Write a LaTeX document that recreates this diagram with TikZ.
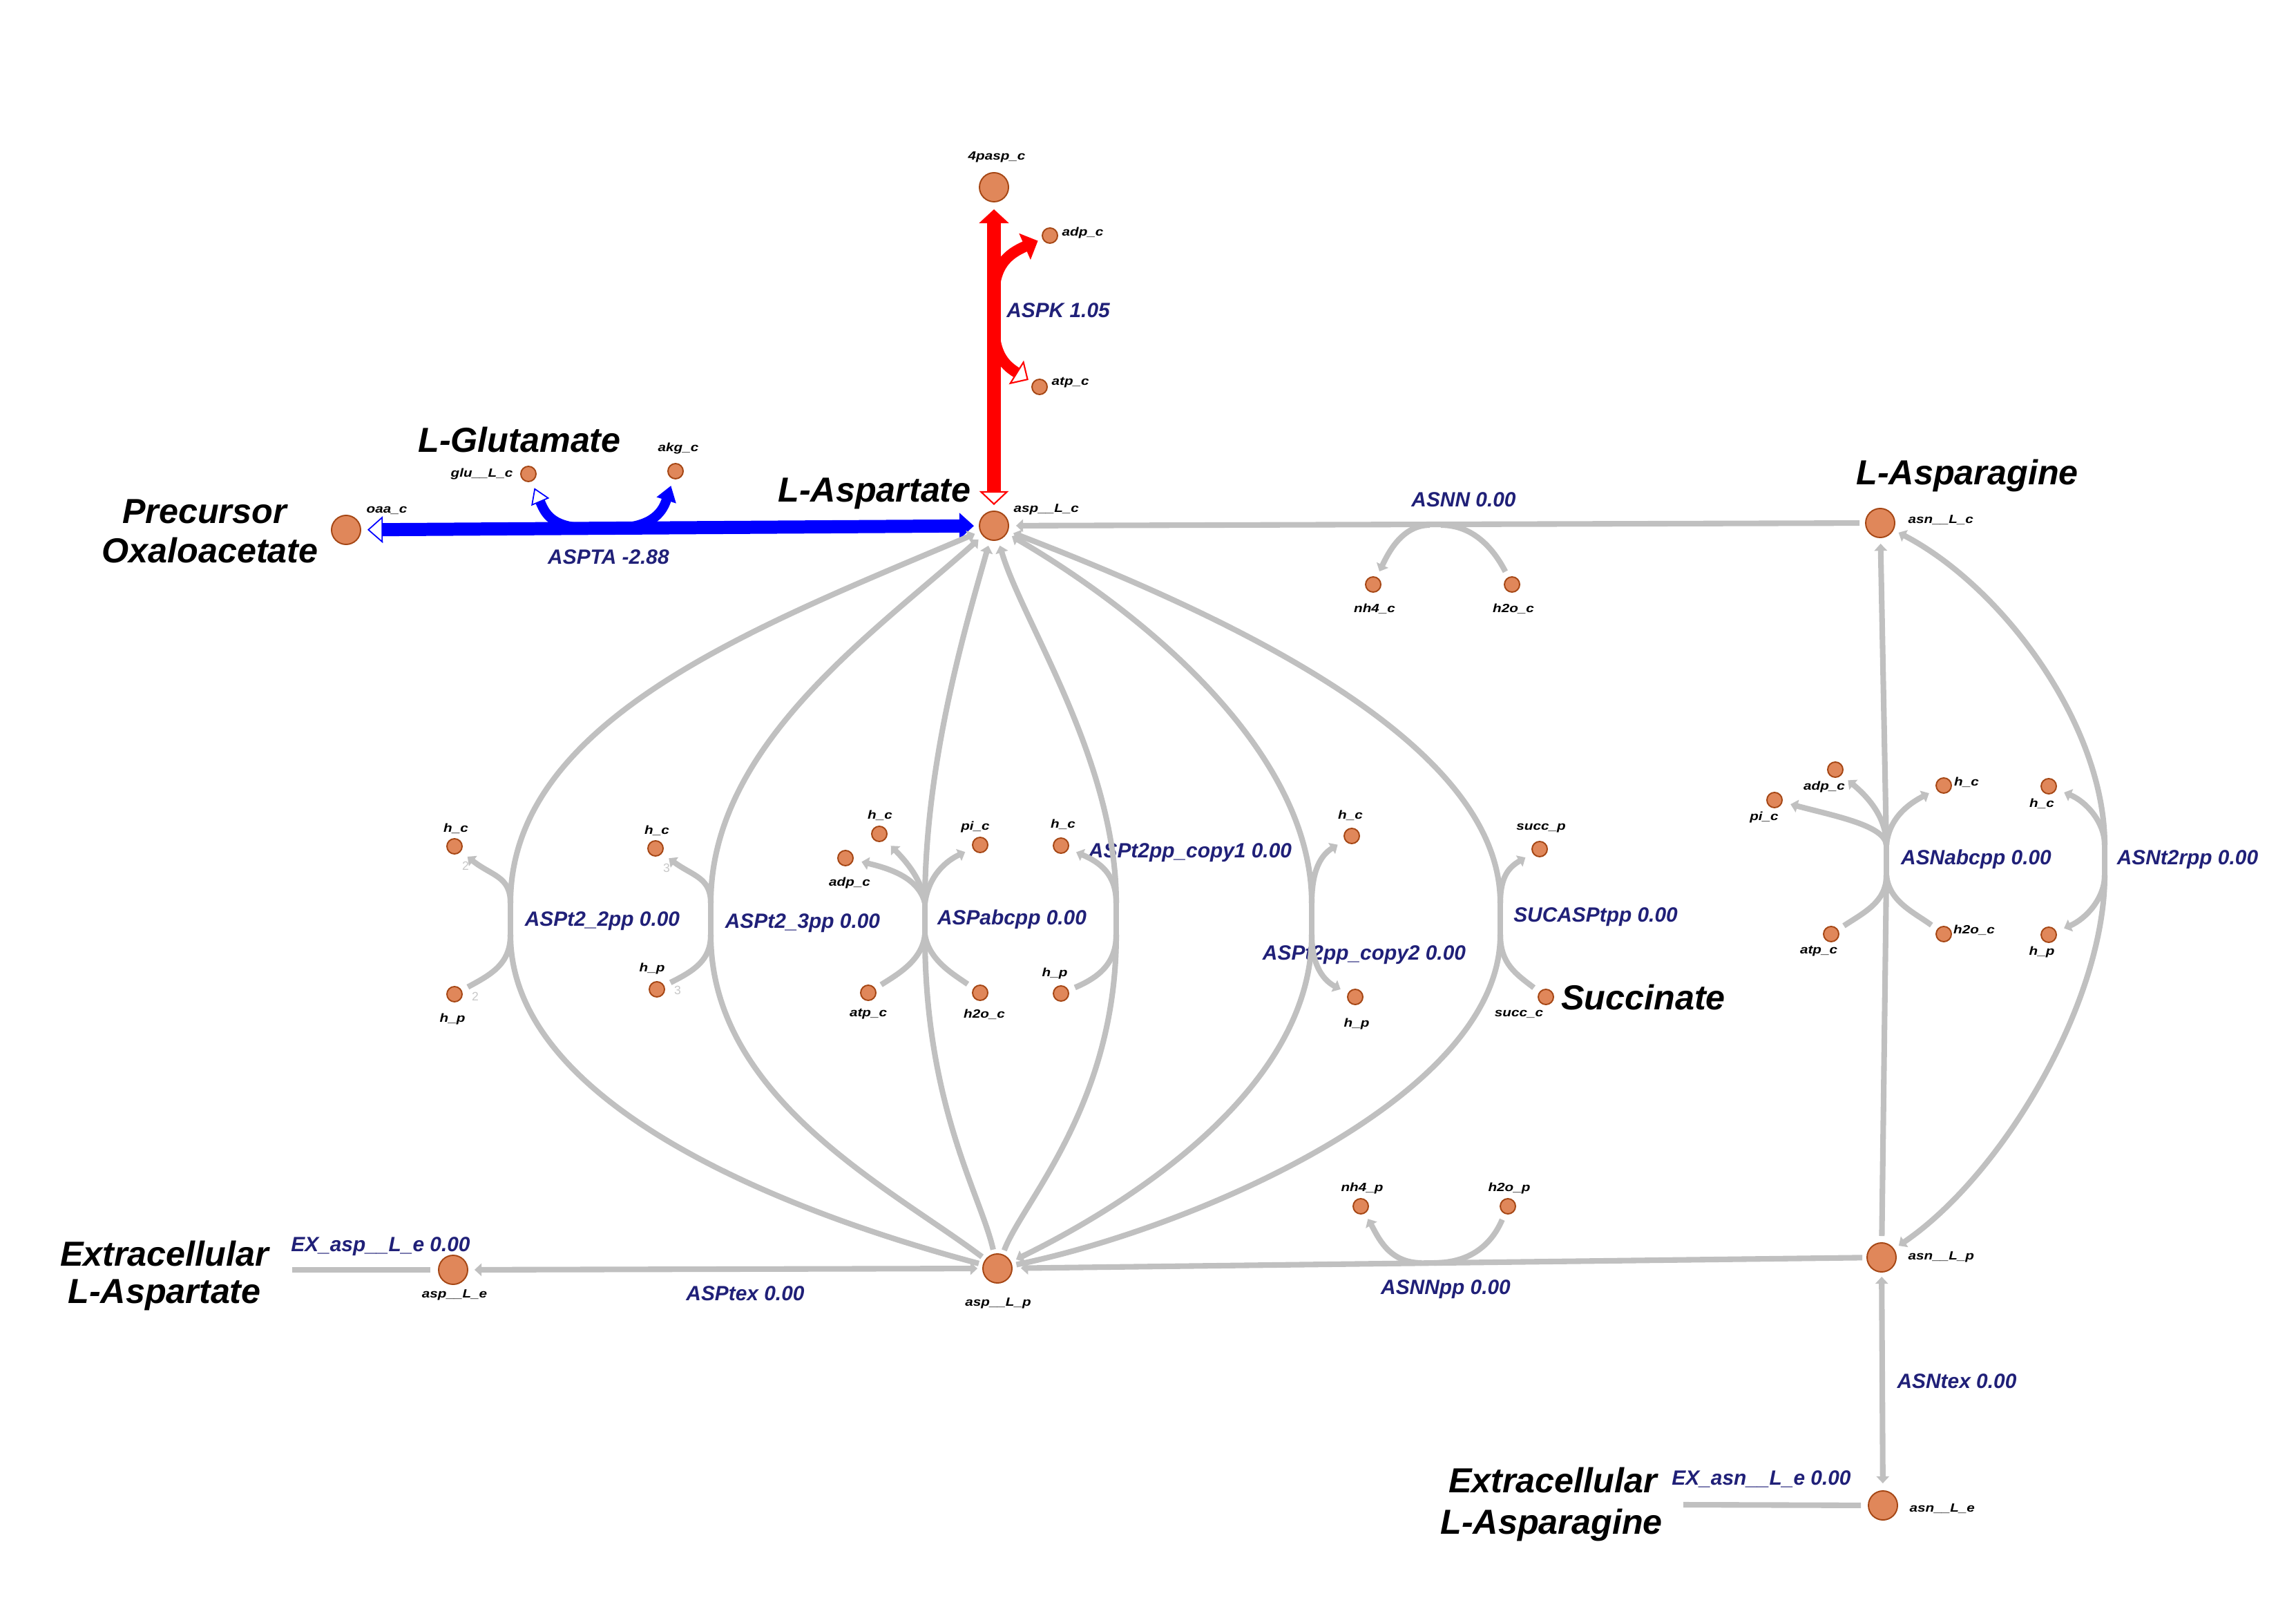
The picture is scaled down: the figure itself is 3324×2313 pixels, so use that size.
\documentclass[tikz,border=0pt]{standalone}
\usepackage{fontspec}
\setmainfont{Liberation Sans}
\newfontfamily\metfont[FakeStretch=1.2]{Liberation Sans}
\usetikzlibrary{arrows.meta}
\definecolor{metfill}{RGB}{224,135,90}
\definecolor{metdraw}{RGB}{165,70,20}
\definecolor{lgray}{RGB}{192,192,192}
\definecolor{navy}{RGB}{32,32,120}
\definecolor{stoich}{RGB}{200,200,200}
\definecolor{rred}{RGB}{255,0,0}
\definecolor{bblue}{RGB}{0,0,255}
\begin{document}
\begin{tikzpicture}[x=0.01cm,y=-0.01cm,
 met/.style={circle,fill=metfill,draw=metdraw,line width=0.55pt,inner sep=0pt,minimum size=0.22cm},
 bigmet/.style={met,minimum size=0.42cm},
 mlab/.style={inner sep=0pt,font=\metfont\bfseries\itshape\fontsize{4.9}{5.5}\selectfont},
 rlab/.style={inner sep=0pt,text=navy,font=\bfseries\itshape\fontsize{8.5}{10}\selectfont},
 biglab/.style={inner sep=0pt,font=\bfseries\itshape\fontsize{14.3}{17}\selectfont},
 slab/.style={inner sep=0pt,text=stoich,font=\fontsize{5}{6}\selectfont},
 gr/.style={draw=lgray,line width=2.3pt},
 gtip/.tip={Triangle[length=2.9pt,width=5.2pt]},
 redmain/.style={draw=rred,line width=5.7pt},
 redbr/.style={draw=rred,line width=4.5pt},
 bluemain/.style={draw=bblue,line width=5.4pt},
 bluebr/.style={draw=bblue,line width=4pt},
 ga/.style={-gtip,shorten >=0.12cm},
 gm/.style={-gtip,shorten >=0.08cm},
 gn/.style={shorten >=0.1cm}
]
\fill[white] (0,0) rectangle (3324,2313);
\useasboundingbox (0,0) rectangle (3324,2313);

% ---------- metabolites ----------
\node[bigmet] (pasp) at (1439,271) {};
\node[bigmet] (aspc) at (1439,761) {};
\node[bigmet] (oaa) at (501,767) {};
\node[bigmet] (asnc) at (2722,757) {};
\node[bigmet] (asnp) at (2724,1820) {};
\node[bigmet] (asne) at (2726,2179) {};
\node[bigmet] (aspp) at (1444,1836) {};
\node[bigmet] (aspe) at (656,1838) {};
\node[met] (adpK) at (1520,341) {};
\node[met] (atpK) at (1505,560) {};
\node[met] (glu) at (765,686) {};
\node[met] (akg) at (978,682) {};
\node[met] (nh4c) at (1988,846) {};
\node[met] (h2oc) at (2189,846) {};
\node[met] (nh4p) at (1970,1746) {};
\node[met] (h2op) at (2183,1746) {};
\node[met] (hc1) at (658,1225) {};
\node[met] (hp1) at (658,1439) {};
\node[met] (hc2) at (949,1228) {};
\node[met] (hp2) at (951,1432) {};
\node[met] (hc3) at (1273,1207) {};
\node[met] (adp3) at (1224,1242) {};
\node[met] (pi3) at (1419,1223) {};
\node[met] (atp3) at (1257,1437) {};
\node[met] (h2o3) at (1419,1437) {};
\node[met] (hc4) at (1536,1224) {};
\node[met] (hp4) at (1536,1438) {};
\node[met] (hc5) at (1957,1210) {};
\node[met] (hp5) at (1962,1443) {};
\node[met] (succp) at (2229,1229) {};
\node[met] (succc) at (2238,1443) {};
\node[met] (adpN) at (2657,1114) {};
\node[met] (piN) at (2569,1158) {};
\node[met] (hcN) at (2814,1137) {};
\node[met] (atpN) at (2651,1352) {};
\node[met] (h2oN) at (2814,1352) {};
\node[met] (hcT) at (2966,1138) {};
\node[met] (hpT) at (2966,1353) {};

% ---------- metabolite labels ----------
\node[mlab] (l-pasp) at (1443,227) {4pasp\_c};
\node[mlab,anchor=west] (l-adpK) at (1537,337) {adp\_c};
\node[mlab,anchor=west] (l-atpK) at (1522,554) {atp\_c};
\node[mlab,anchor=west] (l-aspc) at (1467,737) {asp\_\_L\_c};
\node[mlab] (l-oaa) at (560,739) {oaa\_c};
\node[mlab,anchor=east] (l-glu) at (743,686) {glu\_\_L\_c};
\node[mlab] (l-akg) at (982,649) {akg\_c};
\node[mlab,anchor=west] (l-asnc) at (2762,753) {asn\_\_L\_c};
\node[mlab,anchor=west] (l-asnp) at (2762,1819) {asn\_\_L\_p};
\node[mlab,anchor=west] (l-asne) at (2764,2184) {asn\_\_L\_e};
\node[mlab] (l-aspp) at (1445,1886) {asp\_\_L\_p};
\node[mlab] (l-aspe) at (658,1874) {asp\_\_L\_e};
\node[mlab] (l-nh4c) at (1990,881) {nh4\_c};
\node[mlab] (l-h2oc) at (2191,881) {h2o\_c};
\node[mlab] (l-nh4p) at (1972,1720) {nh4\_p};
\node[mlab] (l-h2op) at (2185,1720) {h2o\_p};
\node[mlab] (l-hc1) at (660,1199) {h\_c};
\node[mlab] (l-hp1) at (655,1475) {h\_p};
\node[mlab] (l-hc2) at (951,1202) {h\_c};
\node[mlab] (l-hp2) at (944,1402) {h\_p};
\node[mlab] (l-hc3) at (1274,1180) {h\_c};
\node[mlab] (l-adp3) at (1230,1278) {adp\_c};
\node[mlab] (l-pi3) at (1412,1197) {pi\_c};
\node[mlab] (l-atp3) at (1257,1468) {atp\_c};
\node[mlab] (l-h2o3) at (1425,1468) {h2o\_c};
\node[mlab] (l-hc4) at (1539,1193) {h\_c};
\node[mlab] (l-hp4) at (1527,1409) {h\_p};
\node[mlab] (l-hc5) at (1955,1180) {h\_c};
\node[mlab] (l-hp5) at (1964,1482) {h\_p};
\node[mlab] (l-succp) at (2231,1199) {succ\_p};
\node[mlab] (l-succc) at (2199,1468) {succ\_c};
\node[mlab] (l-adpN) at (2641,1139) {adp\_c};
\node[mlab] (l-piN) at (2554,1183) {pi\_c};
\node[mlab] (l-hcN) at (2847,1132) {h\_c};
\node[mlab] (l-atpN) at (2633,1377) {atp\_c};
\node[mlab] (l-h2oN) at (2858,1346) {h2o\_c};
\node[mlab] (l-hcT) at (2956,1163) {h\_c};
\node[mlab] (l-hpT) at (2956,1378) {h\_p};
\node[slab] (s1) at (674,1253) {2};
\node[slab] (s2) at (688,1442) {2};
\node[slab] (s3) at (965,1256) {3};
\node[slab] (s4) at (981,1433) {3};

% ---------- big labels ----------
\node[biglab] (b1) at (296,740) {Precursor};
\node[biglab] (b2) at (304,797) {Oxaloacetate};
\node[biglab] (b3) at (752,637) {L-Glutamate};
\node[biglab] (b4) at (1266,714) {L-Aspartate};
\node[biglab] (b5) at (2848,689) {L-Asparagine};
\node[biglab] (b6) at (2379,1444) {Succinate};
\node[biglab] (b7) at (238,1815) {Extracellular};
\node[biglab] (b8) at (238,1874) {L-Aspartate};
\node[biglab] (b9) at (2248,2143) {Extracellular};
\node[biglab] (b10) at (2246,2207) {L-Asparagine};

% ---------- reaction labels ----------
\node[rlab] (rl-aspk) at (1532,449) {ASPK 1.05};
\node[rlab] (rl-aspta) at (881,806) {ASPTA -2.88};
\node[rlab] (rl-asnn) at (2119,723) {ASNN 0.00};
\node[rlab] (rl-r1) at (872,1333) {ASPt2\_2pp 0.00};
\node[rlab] (rl-r2) at (1162,1336) {ASPt2\_3pp 0.00};
\node[rlab] (rl-r3) at (1465,1331) {ASPabcpp 0.00};
\node[rlab] (rl-r4) at (1723,1234) {ASPt2pp\_copy1 0.00};
\node[rlab] (rl-r5) at (1975,1382) {ASPt2pp\_copy2 0.00};
\node[rlab] (rl-r6) at (2310,1327) {SUCASPtpp 0.00};
\node[rlab] (rl-nab) at (2861,1244) {ASNabcpp 0.00};
\node[rlab] (rl-nt2) at (3167,1244) {ASNt2rpp 0.00};
\node[rlab] (rl-exasp) at (551,1804) {EX\_asp\_\_L\_e 0.00};
\node[rlab] (rl-asptex) at (1079,1872) {ASPtex 0.00};
\node[rlab] (rl-asnnpp) at (2093,1866) {ASNNpp 0.00};
\node[rlab] (rl-asntex) at (2833,1999) {ASNtex 0.00};
\node[rlab] (rl-exasn) at (2550,2141) {EX\_asn\_\_L\_e 0.00};

% ---------- ASPK (red) ----------
\draw[redmain,{Triangle[open,length=5.7pt,width=12pt,line width=0.6pt]}-{Triangle[length=5.7pt,width=12pt]},shorten <=0.08cm,shorten >=0.10cm] (aspc) -- (pasp);
\coordinate (kA) at (1439,430);
\coordinate (kB) at (1439,470);
\draw[redbr,-{Triangle[length=5.9pt,width=11.5pt]},shorten >=0.07cm] (kA) .. controls (1439,385) and (1458,368) .. (adpK);
\draw[redbr,-{Triangle[open,length=5.9pt,width=11.5pt,line width=0.6pt]},shorten >=0.07cm] (kB) .. controls (1439,510) and (1452,527) .. (atpK);

% ---------- ASPTA (blue) ----------
\draw[bluemain,{Triangle[open,length=6.3pt,width=11pt,line width=0.5pt]}-{Triangle[length=6pt,width=10.5pt]},shorten <=0.09cm,shorten >=0.07cm] (oaa) -- (aspc);
\coordinate (tM1) at (858,765);
\coordinate (tM2) at (882,765);
\draw[bluebr,-{Triangle[open,length=6.3pt,width=8pt,line width=0.5pt]},shorten >=0.1cm] (tM1) .. controls (800,765) and (790,745) .. (glu);
\draw[bluebr,-{Triangle[length=6.3pt,width=8pt]},shorten >=0.1cm] (tM2) .. controls (940,765) and (958,745) .. (akg);

% ---------- ASNN ----------
\coordinate (nnA) at (2070,760);
\coordinate (nnB) at (2086,760);
\draw[gr,-gtip,shorten <=0.08cm,shorten >=0.1cm] (asnc) -- (aspc);
\draw[gr,-gtip,shorten >=0.09cm] (nnA) .. controls (2030,760) and (2010,800) .. (nh4c);
\draw[gr,shorten >=0.09cm] (nnB) .. controls (2130,760) and (2160,790) .. (h2oc);

% ---------- ASNNpp ----------
\coordinate (npA) at (2058,1828);
\coordinate (npB) at (2076,1828);
\draw[gr,-gtip,shorten <=0.06cm,shorten >=0.12cm] (asnp) -- (aspp);
\draw[gr,-gtip,shorten >=0.09cm] (npA) .. controls (2010,1828) and (1995,1790) .. (nh4p);
\draw[gr,shorten >=0.09cm] (npB) .. controls (2130,1828) and (2160,1800) .. (h2op);

% ---------- ASPtex / EX_asp ----------
\draw[gr,gtip-gtip,shorten <=0.09cm,shorten >=0.07cm] (aspe) -- (aspp);
\coordinate (exaspend) at (423,1838);
\draw[gr,shorten >=0.11cm] (exaspend) -- (aspe);

% ---------- ASNtex / EX_asn ----------
\draw[gr,gtip-gtip,shorten <=0.06cm,shorten >=0.1cm] (asnp) -- (asne);
\coordinate (exasnend) at (2437,2178);
\draw[gr,shorten >=0.1cm] (exasnend) -- (asne);

% ---------- ASNabcpp ----------
\coordinate (nabT) at (2731,1223);
\coordinate (nabB) at (2731,1267);
\draw[gr,shorten <=0.09cm] (asnp) -- (nabB);
\draw[gr] (nabB) -- (nabT);
\draw[gr,gm] (nabT) -- (asnc);
\draw[gr,ga] (nabT) .. controls (2731,1180) and (2700,1150) .. (adpN);
\draw[gr,ga] (nabT) .. controls (2728,1195) and (2660,1182) .. (piN);
\draw[gr,ga] (nabT) .. controls (2735,1180) and (2770,1160) .. (hcN);
\draw[gr,gn] (nabB) .. controls (2731,1305) and (2700,1320) .. (atpN);
\draw[gr,gn] (nabB) .. controls (2735,1305) and (2770,1320) .. (h2oN);

% ---------- ASNt2rpp ----------
\coordinate (ntT) at (3047,1223);
\coordinate (ntB) at (3047,1267);
\draw[gr] (ntT) -- (ntB);
\draw[gr,gm] (ntT) .. controls (3047,1050) and (2900,850) .. (asnc);
\draw[gr,gm] (ntB) .. controls (3047,1450) and (2900,1700) .. (asnp);
\draw[gr,ga] (ntT) .. controls (3047,1190) and (3020,1160) .. (hcT);
\draw[gr,ga] (ntB) .. controls (3047,1300) and (3020,1330) .. (hpT);

% ---------- ASPt2_2pp ----------
\coordinate (r1t) at (739,1307);
\coordinate (r1b) at (739,1353);
\draw[gr] (r1t) -- (r1b);
\draw[gr,gm] (r1t) .. controls (739,1040) and (1100,905) .. (aspc);
\draw[gr,shorten >=0.06cm] (r1b) .. controls (739,1600) and (1140,1755) .. (aspp);
\draw[gr,ga] (r1t) .. controls (739,1268) and (712,1268) .. (hc1);
\draw[gr,gn] (r1b) .. controls (739,1395) and (712,1410) .. (hp1);

% ---------- ASPt2_3pp ----------
\coordinate (r2t) at (1029,1307);
\coordinate (r2b) at (1029,1353);
\draw[gr] (r2t) -- (r2b);
\draw[gr,gm] (r2t) .. controls (1029,1080) and (1260,920) .. (aspc);
\draw[gr,shorten >=0.06cm] (r2b) .. controls (1029,1590) and (1290,1720) .. (aspp);
\draw[gr,ga] (r2t) .. controls (1029,1270) and (1003,1268) .. (hc2);
\draw[gr,gn] (r2b) .. controls (1029,1390) and (1005,1405) .. (hp2);

% ---------- ASPabcpp ----------
\coordinate (r3t) at (1339,1307);
\coordinate (r3b) at (1339,1353);
\draw[gr] (r3t) -- (r3b);
\draw[gr,gm] (r3t) .. controls (1339,1100) and (1400,900) .. (aspc);
\draw[gr,shorten >=0.06cm] (r3b) .. controls (1339,1600) and (1420,1730) .. (aspp);
\draw[gr,ga] (r3t) .. controls (1335,1270) and (1305,1240) .. (hc3);
\draw[gr,ga] (r3t) .. controls (1330,1272) and (1292,1258) .. (adp3);
\draw[gr,ga] (r3t) .. controls (1345,1265) and (1372,1245) .. (pi3);
\draw[gr,gn] (r3b) .. controls (1335,1390) and (1300,1410) .. (atp3);
\draw[gr,gn] (r3b) .. controls (1345,1390) and (1380,1410) .. (h2o3);

% ---------- ASPt2pp_copy1 ----------
\coordinate (r4t) at (1616,1307);
\coordinate (r4b) at (1616,1353);
\draw[gr] (r4t) -- (r4b);
\draw[gr,gm] (r4t) .. controls (1616,1100) and (1480,900) .. (aspc);
\draw[gr,shorten >=0.06cm] (r4b) .. controls (1616,1600) and (1480,1740) .. (aspp);
\draw[gr,ga] (r4t) .. controls (1616,1265) and (1592,1248) .. (hc4);
\draw[gr,gn] (r4b) .. controls (1616,1395) and (1590,1415) .. (hp4);

% ---------- ASPt2pp_copy2 ----------
\coordinate (r5t) at (1899,1307);
\coordinate (r5b) at (1899,1353);
\draw[gr] (r5t) -- (r5b);
\draw[gr,gm] (r5t) .. controls (1899,1090) and (1660,890) .. (aspc);
\draw[gr,gm] (r5b) .. controls (1899,1590) and (1600,1760) .. (aspp);
\draw[gr,ga] (r5t) .. controls (1899,1260) and (1912,1238) .. (hc5);
\draw[gr,ga] (r5b) .. controls (1899,1400) and (1918,1420) .. (hp5);

% ---------- SUCASPtpp ----------
\coordinate (r6t) at (2172,1307);
\coordinate (r6b) at (2172,1353);
\draw[gr] (r6t) -- (r6b);
\draw[gr,gm] (r6t) .. controls (2172,1080) and (1800,900) .. (aspc);
\draw[gr,shorten >=0.06cm] (r6b) .. controls (2172,1590) and (1720,1780) .. (aspp);
\draw[gr,ga] (r6t) .. controls (2172,1268) and (2185,1255) .. (succp);
\draw[gr,gn] (r6b) .. controls (2172,1395) and (2195,1410) .. (succc);
\end{tikzpicture}
\end{document}
